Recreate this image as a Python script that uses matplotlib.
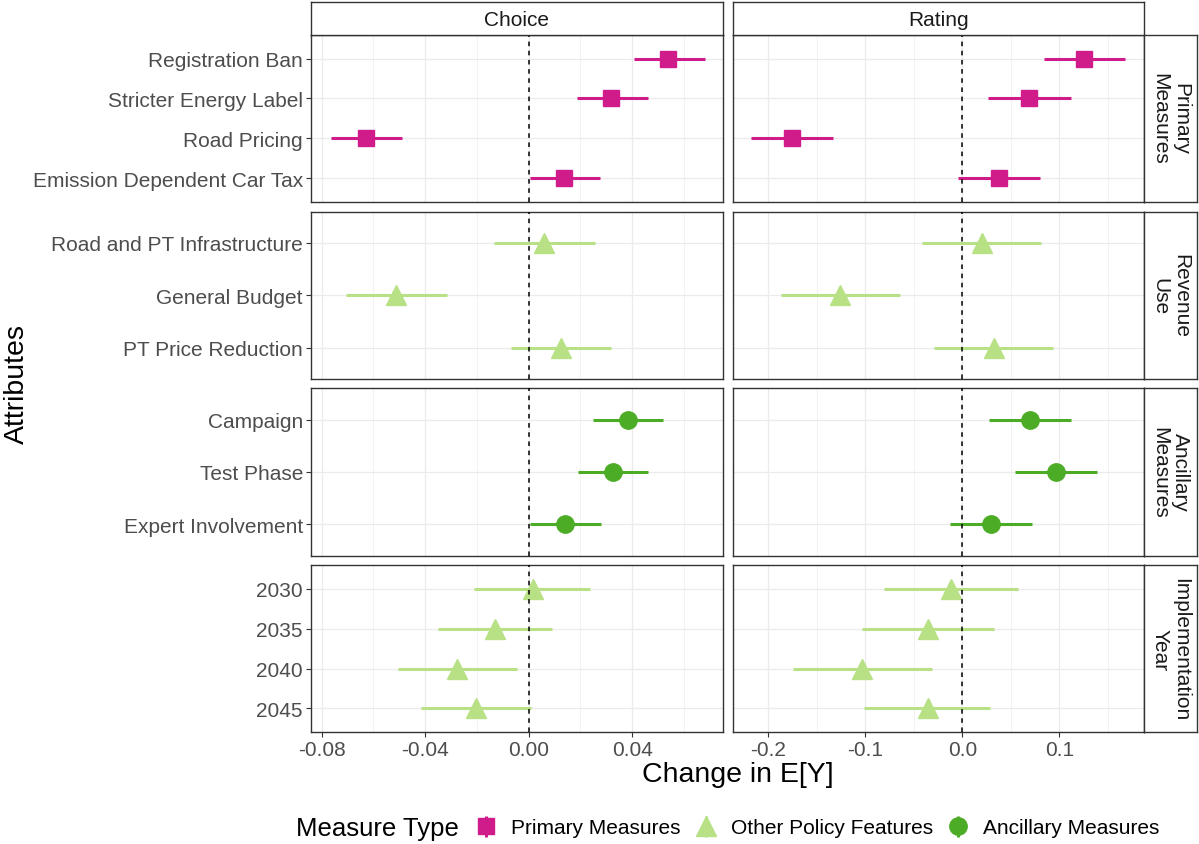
import matplotlib
matplotlib.use("Agg")
import matplotlib.pyplot as plt

plt.rcParams['font.family'] = ['Liberation Sans', 'DejaVu Sans']
plt.rcParams['axes.unicode_minus'] = False

# categories (top to bottom within each row)
primary_attr = ["Registration Ban", "Stricter Energy Label", "Road Pricing", "Emission Dependent Car Tax"]
revenue_attr = ["Road and PT Infrastructure", "General Budget", "PT Price Reduction"]
ancillary_attr = ["Campaign", "Test Phase", "Expert Involvement"]
year_attr = ["2030", "2035", "2040", "2045"]

row_strips = ["Primary\nMeasures", "Revenue\nUse", "Ancillary\nMeasures", "Implementation\nYear"]
row_types = ["Primary Measures", "Other Policy Features", "Ancillary Measures", "Other Policy Features"]
col_strips = ["Choice", "Rating"]

# Choice estimates and intervals
choice_primary = [0.054, 0.032, -0.063, 0.0135]
choice_primary_lo = [0.0406, 0.0186, -0.0765, 0.0004]
choice_primary_hi = [0.068, 0.046, -0.0491, 0.0274]
choice_revenue = [0.0058, -0.0514, 0.0124]
choice_revenue_lo = [-0.0135, -0.0707, -0.007]
choice_revenue_hi = [0.0255, -0.0317, 0.032]
choice_ancillary = [0.0383, 0.0325, 0.0139]
choice_ancillary_lo = [0.0247, 0.0189, 0.0004]
choice_ancillary_hi = [0.0518, 0.046, 0.0278]
choice_year = [0.0015, -0.0131, -0.0276, -0.0202]
choice_year_lo = [-0.0213, -0.0352, -0.0505, -0.0414]
choice_year_hi = [0.0236, 0.0089, -0.0044, 0.0008]

# Rating estimates and intervals
rating_primary = [0.1255, 0.069, -0.176, 0.0378]
rating_primary_lo = [0.0842, 0.0268, -0.218, -0.004]
rating_primary_hi = [0.1677, 0.112, -0.1336, 0.0798]
rating_revenue = [0.0203, -0.1258, 0.0327]
rating_revenue_lo = [-0.0416, -0.187, -0.029]
rating_revenue_hi = [0.081, -0.064, 0.0935]
rating_ancillary = [0.0698, 0.0966, 0.0296]
rating_ancillary_lo = [0.0275, 0.054, -0.0127]
rating_ancillary_hi = [0.112, 0.139, 0.072]
rating_year = [-0.0116, -0.035, -0.103, -0.0357]
rating_year_lo = [-0.0804, -0.1034, -0.175, -0.101]
rating_year_hi = [0.0577, 0.033, -0.0316, 0.0289]

choice_ticks = [-0.08, -0.04, 0.0, 0.04]
choice_ticklabels = ["-0.08", "-0.04", "0.00", "0.04"]
rating_ticks = [-0.2, -0.1, 0.0, 0.1]
rating_ticklabels = ["-0.2", "-0.1", "0.0", "0.1"]

attrs = [primary_attr, revenue_attr, ancillary_attr, year_attr]
data = {
    "Choice": [(choice_primary, choice_primary_lo, choice_primary_hi),
               (choice_revenue, choice_revenue_lo, choice_revenue_hi),
               (choice_ancillary, choice_ancillary_lo, choice_ancillary_hi),
               (choice_year, choice_year_lo, choice_year_hi)],
    "Rating": [(rating_primary, rating_primary_lo, rating_primary_hi),
               (rating_revenue, rating_revenue_lo, rating_revenue_hi),
               (rating_ancillary, rating_ancillary_lo, rating_ancillary_hi),
               (rating_year, rating_year_lo, rating_year_hi)],
}

styles = {
    "Primary Measures": ("#D01C8B", "s", 12),
    "Other Policy Features": ("#B8E186", "^", 14),
    "Ancillary Measures": ("#4DAC26", "o", 12.5),
}

W, H = 1199, 845
fig = plt.figure(figsize=(W / 100, H / 100), dpi=100)

col_x = [(311, 722.7), (732.5, 1143.7)]
row_y = [(35.7, 203), (212.5, 380), (389.3, 556.5), (566, 733.3)]
xlims = [(-0.0841, 0.0750), (-0.2369, 0.187)]
ticks = [(choice_ticks, choice_ticklabels), (rating_ticks, rating_ticklabels)]
minor = [[-0.06, -0.02, 0.02, 0.06], [-0.15, -0.05, 0.05, 0.15]]

edge = "#333333"
grid = "#EBEBEB"

def box(x0, y0, x1, y1):
    return [x0 / W, 1 - y1 / H, (x1 - x0) / W, (y1 - y0) / H]

def strip_axes(x0, y0, x1, y1):
    sax = fig.add_axes(box(x0, y0, x1, y1))
    sax.set_xticks([])
    sax.set_yticks([])
    for s in sax.spines.values():
        s.set_color(edge)
        s.set_linewidth(1.0)
    return sax

for c, name in enumerate(col_strips):
    for r in range(4):
        ax = fig.add_axes(box(col_x[c][0], row_y[r][0], col_x[c][1], row_y[r][1]))
        items = attrs[r]
        n = len(items)
        ypos = list(range(n))
        est, lo, hi = data[name][r]
        color, marker, ms = styles[row_types[r]]

        for v in minor[c]:
            ax.axvline(v, color=grid, lw=0.45, zorder=0)
        for v in ticks[c][0]:
            ax.axvline(v, color=grid, lw=0.9, zorder=0)
        for y in ypos:
            ax.axhline(y, color=grid, lw=0.9, zorder=0)

        ax.hlines(ypos, lo, hi, color=color, lw=2.2, zorder=2)
        ax.plot(est, ypos, linestyle="none", marker=marker, ms=ms, color=color, zorder=3)
        ax.axvline(0, color="black", lw=1.1, ls=(0, (3, 3)), zorder=4)

        ax.set_xlim(*xlims[c])
        ax.set_ylim(n - 1 + 0.6, -0.6)
        ax.set_yticks(ypos)
        ax.set_xticks(ticks[c][0])
        for s in ax.spines.values():
            s.set_color(edge)
            s.set_linewidth(1.0)
        ax.tick_params(colors=edge, length=3.3, width=0.8, labelsize=15, labelcolor="#4D4D4D", pad=2.5)
        if c == 0:
            ax.set_yticklabels(items)
        else:
            ax.tick_params(axis="y", left=False, labelleft=False)
        if r == 3:
            ax.set_xticklabels(ticks[c][1])
        else:
            ax.tick_params(axis="x", bottom=False, labelbottom=False)

        if r == 0:
            sax = strip_axes(col_x[c][0], 3, col_x[c][1], 35.7)
            sax.text(0.5, 0.47, name, ha="center", va="center", fontsize=15, color="#1A1A1A",
                     transform=sax.transAxes)
        if c == 1:
            sax = strip_axes(1143.7, row_y[r][0], 1197, row_y[r][1])
            sax.text(0.5, 0.5, row_strips[r], ha="center", va="center", fontsize=15, color="#1A1A1A",
                     rotation=-90, multialignment="center", linespacing=1.1, transform=sax.transAxes)

fig.text(738 / W, 1 - 775 / H, "Change in E[Y]", ha="center", va="center", fontsize=20.5, color="black")
fig.text(17 / W, 1 - 384 / H, "Attributes", ha="center", va="center", rotation=90, fontsize=20.5, color="black")

# legend: pointrange keys (vertical bar through marker), built on an axes outside the canvas
lax = fig.add_axes([-0.5, -0.5, 0.01, 0.01])
lax.set_axis_off()
lax.set_xlim(0, 1)
lax.set_ylim(0, 1)
labels = ["Primary Measures", "Other Policy Features", "Ancillary Measures"]
handles = []
for lab in labels:
    color, marker, ms = styles[lab]
    eb = lax.errorbar([5], [5], yerr=[1], fmt=marker, ms=ms, color=color,
                      elinewidth=2.2, capsize=0)
    handles.append(eb)

fig.text(296 / W, 1 - 829 / H, "Measure Type", ha="left", va="center", fontsize=18.5, color="black")
fig.legend(handles, labels, loc="center left", bbox_to_anchor=(476 / W, 1 - 829 / H),
           ncol=3, frameon=False, fontsize=15, handlelength=1.0, handletextpad=0.7,
           columnspacing=0.7, borderpad=0, borderaxespad=0)

fig.savefig("out.png", dpi=100)
